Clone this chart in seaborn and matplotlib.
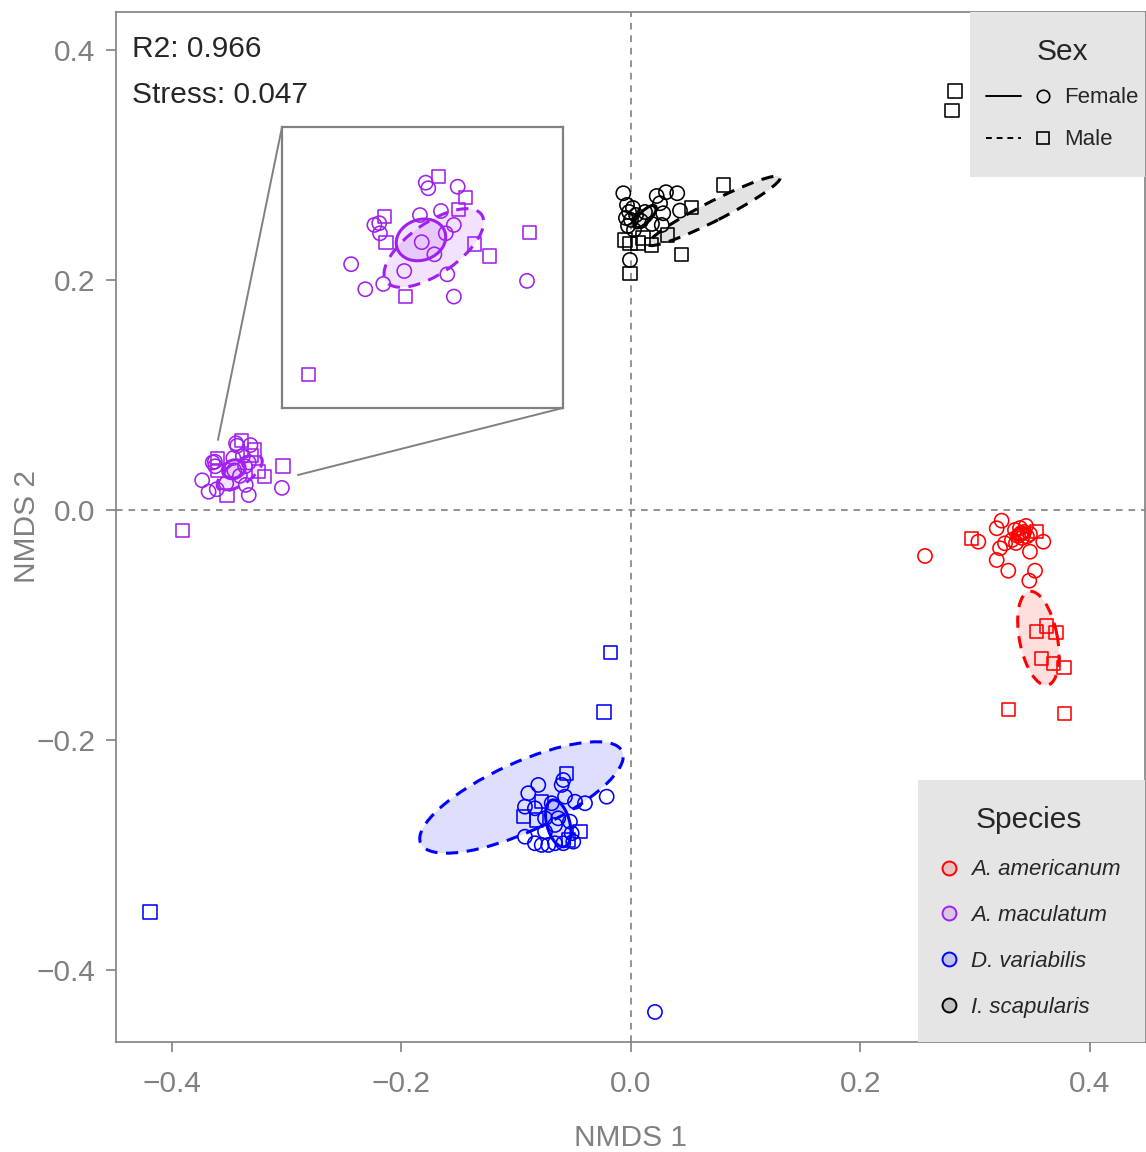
import numpy as np
import pandas as pd
import seaborn as sns
import matplotlib.pyplot as plt
from matplotlib.patches import Ellipse, Rectangle
from matplotlib.lines import Line2D
from matplotlib.colors import to_rgba
from matplotlib.legend_handler import HandlerTuple

# ---- data ----
species = ["A. americanum", "A. maculatum", "D. variabilis", "I. scapularis"]
colors = ["#FF0000", "#A020F0", "#0000FF", "#000000"]
fill_alpha = [0.13, 0.13, 0.13, 0.11]

am_f_x = [0.3230, 0.3187, 0.3027, 0.2562, 0.3259, 0.3216, 0.3187, 0.3288, 0.3477, 0.3593, 0.3521, 0.3471,
          0.3346, 0.3390, 0.3425, 0.3373, 0.3442, 0.3407, 0.3477, 0.3320, 0.3355, 0.3400, 0.3450]
am_f_y = [-0.0093, -0.0159, -0.0276, -0.0400, -0.0290, -0.0333, -0.0435, -0.0528, -0.0363, -0.0276, -0.0528, -0.0615,
          -0.0174, -0.0157, -0.0191, -0.0226, -0.0139, -0.0243, -0.0209, -0.0261, -0.0287, -0.0200, -0.0230]
am_m_x = [0.2969, 0.3536, 0.3536, 0.3623, 0.3704, 0.3579, 0.3680, 0.3773, 0.3288, 0.3776]
am_m_y = [-0.0246, -0.0189, -0.1058, -0.1009, -0.1067, -0.1290, -0.1333, -0.1368, -0.1733, -0.1768]

ma_f_x = [-0.3442, -0.3432, -0.3316, -0.3465, -0.3382, -0.3331, -0.3363, -0.3458, -0.3408, -0.3645, -0.3626,
          -0.3623, -0.3737, -0.3681, -0.3610, -0.3527, -0.3357, -0.3331, -0.3042]
ma_f_y = [0.0580, 0.0558, 0.0564, 0.0452, 0.0468, 0.0413, 0.0380, 0.0345, 0.0297, 0.0413, 0.0420,
          0.0380, 0.0258, 0.0159, 0.0180, 0.0231, 0.0218, 0.0130, 0.0192]
ma_m_x = [-0.3391, -0.3284, -0.3312, -0.3606, -0.3599, -0.3249, -0.3191, -0.3033, -0.3521, -0.3906]
ma_m_y = [0.0606, 0.0523, 0.0475, 0.0446, 0.0345, 0.0338, 0.0290, 0.0382, 0.0129, -0.0177]

dv_f_x = [-0.0808, -0.0604, -0.0895, -0.0575, -0.0488, -0.0401, -0.0924, -0.0837, -0.0691, -0.0749, -0.0662,
          -0.0532, -0.0517, -0.0924, -0.0837, -0.0778, -0.0721, -0.0662, -0.0590, -0.0503, -0.0749, -0.0634,
          -0.0212, 0.0209, -0.0590]
dv_f_y = [-0.2391, -0.2391, -0.2463, -0.2493, -0.2537, -0.2550, -0.2580, -0.2594, -0.2550, -0.2681, -0.2739,
          -0.2710, -0.2811, -0.2841, -0.2898, -0.2913, -0.2913, -0.2898, -0.2898, -0.2884, -0.2797, -0.2681,
          -0.2493, -0.4365, -0.2348]
dv_m_x = [-0.0177, -0.0235, -0.0560, -0.0939, -0.0444, -0.0546, -0.0778, -0.4192, -0.0822]
dv_m_y = [-0.1241, -0.1757, -0.2290, -0.2667, -0.2797, -0.2870, -0.2537, -0.3496, -0.2696]

is_f_x = [-0.0067, 0.0305, 0.0403, 0.0224, 0.0253, 0.0427, 0.0281, 0.0268, -0.0009, -0.0035, -0.0017,
          0.0017, -0.0044, 0.0000, 0.0044, -0.0026, 0.0026, 0.0087, 0.0122, 0.0183]
is_f_y = [0.2754, 0.2763, 0.2754, 0.2730, 0.2667, 0.2603, 0.2580, 0.2478, 0.2174, 0.2652, 0.2591,
          0.2626, 0.2539, 0.2522, 0.2565, 0.2470, 0.2435, 0.2513, 0.2591, 0.2487]
is_m_x = [0.0804, 0.0529, 0.0316, 0.0180, -0.0009, 0.0061, 0.0442, -0.0009, -0.0052, 0.0105, 0.2824, 0.2797]
is_m_y = [0.2826, 0.2629, 0.2391, 0.2304, 0.2319, 0.2322, 0.2223, 0.2058, 0.2348, 0.2365, 0.3643, 0.3470]

# ellipses: species, sex, centre x, centre y, width, height, angle
ell_species = ["A. americanum", "A. americanum", "A. maculatum", "A. maculatum",
               "D. variabilis", "D. variabilis", "I. scapularis", "I. scapularis"]
ell_sex = ["Male", "Female"] * 4
ell_cx = [0.3550, 0.3400, -0.3410, -0.3461, -0.0954, -0.0634, 0.0725, 0.0122]
ell_cy = [-0.1116, -0.0210, 0.0322, 0.0354, -0.2500, -0.2725, 0.2601, 0.2550]
ell_w = [0.083, 0.016, 0.046, 0.020, 0.193, 0.042, 0.129, 0.026]
ell_h = [0.033, 0.010, 0.020, 0.016, 0.060, 0.020, 0.017, 0.010]
ell_ang = [101, 15, 35, 20, 24.5, 105, 27, 45]

r2_text = "R2: 0.966"
stress_text = "Stress: 0.047"
ticks = [-0.4, -0.2, 0.0, 0.2, 0.4]

# zoom inset (data coords) and its connector lines
inset_bounds = [-0.3041, 0.0887, 0.2448, 0.2443]
inset_xlim = (-0.401, -0.290)
inset_ylim = (-0.031, 0.080)
connector_1 = ([-0.3041, -0.3599], [0.333, 0.0609])
connector_2 = ([-0.0593, -0.2902], [0.0887, 0.0304])

groups = [("A. americanum", "Female", am_f_x, am_f_y), ("A. americanum", "Male", am_m_x, am_m_y),
          ("A. maculatum", "Female", ma_f_x, ma_f_y), ("A. maculatum", "Male", ma_m_x, ma_m_y),
          ("D. variabilis", "Female", dv_f_x, dv_f_y), ("D. variabilis", "Male", dv_m_x, dv_m_y),
          ("I. scapularis", "Female", is_f_x, is_f_y), ("I. scapularis", "Male", is_m_x, is_m_y)]
df = pd.concat([pd.DataFrame({"NMDS1": xs, "NMDS2": ys, "Species": sp, "Sex": sx})
                for sp, sx, xs, ys in groups], ignore_index=True)
ell = pd.DataFrame({"Species": ell_species, "Sex": ell_sex, "cx": ell_cx, "cy": ell_cy,
                    "w": ell_w, "h": ell_h, "angle": ell_ang})

palette = dict(zip(species, colors))
alphas = dict(zip(species, fill_alpha))
markers = {"Female": "o", "Male": "s"}
sizes = {"Female": 105, "Male": 90}
dashes = {"Female": "-", "Male": (0, (4, 2.8))}

sns.set_style("ticks")
plt.rcParams["font.family"] = ["Liberation Sans", "DejaVu Sans"]
grey = "#808080"
legend_bg = "#E5E5E5"


def draw(axis, data, ells):
    for _, e in ells.iterrows():
        c = palette[e["Species"]]
        axis.add_patch(Ellipse((e["cx"], e["cy"]), e["w"], e["h"], angle=e["angle"],
                               facecolor=to_rgba(c, alphas[e["Species"]]), edgecolor=c,
                               lw=2.2, ls=dashes[e["Sex"]], zorder=2))
    for (sp, sx), g in data.groupby(["Species", "Sex"]):
        c = palette[sp]
        sns.scatterplot(data=g, x="NMDS1", y="NMDS2", ax=axis, marker=markers[sx], s=sizes[sx],
                        color=c, facecolor="none", edgecolor=c, linewidth=1.15, legend=False, zorder=3)


fig = plt.figure(figsize=(11.46, 11.52), dpi=100)
ax = fig.add_axes([0.1012, 0.0955, 0.8979, 0.8941])

ax.axhline(0, color=grey, lw=1.2, ls=(0, (4, 3.5)), zorder=1)
ax.axvline(0, color=grey, lw=1.2, ls=(0, (4, 3.5)), zorder=1)
draw(ax, df, ell)

ax.set_xlim(-0.4488, 0.4479)
ax.set_ylim(-0.4626, 0.4330)
ax.set_xticks(ticks)
ax.set_yticks(ticks)
ax.set_xticklabels([f"{t:.1f}".replace("-", "\u2212") for t in ticks])
ax.set_yticklabels([f"{t:.1f}".replace("-", "\u2212") for t in ticks])
ax.tick_params(colors=grey, labelcolor=grey, labelsize=21.5, length=7, width=1.2)
ax.tick_params(axis="x", pad=13)
ax.tick_params(axis="y", pad=8)
for s in ax.spines.values():
    s.set_color(grey)
    s.set_linewidth(1.2)
ax.set_xlabel("NMDS 1", fontsize=21.5, color=grey)
ax.set_ylabel("NMDS 2", fontsize=21.5, color=grey)
ax.xaxis.set_label_coords(0.5, -0.080)
ax.yaxis.set_label_coords(-0.073, 0.5)

ax.text(0.0155, 0.964, r2_text, transform=ax.transAxes, fontsize=21.5, va="center", ha="left")
ax.text(0.0155, 0.919, stress_text, transform=ax.transAxes, fontsize=21.5, va="center", ha="left")

# zoomed inset of the A. maculatum cluster
ins = ax.inset_axes(inset_bounds, transform=ax.transData, zorder=4)
draw(ins, df[df["Species"] == "A. maculatum"], ell[ell["Species"] == "A. maculatum"])
ins.set_xlim(*inset_xlim)
ins.set_ylim(*inset_ylim)
ins.set_xticks([])
ins.set_yticks([])
ins.set_xlabel("")
ins.set_ylabel("")
for s in ins.spines.values():
    s.set_color(grey)
    s.set_linewidth(1.6)
ax.plot(*connector_1, color=grey, lw=1.4, zorder=3)
ax.plot(*connector_2, color=grey, lw=1.4, zorder=3)

# legend panels (grey boxes flush with the axes corners)
ax.add_patch(Rectangle((0.830, 0.8398), 0.170, 0.1602, transform=ax.transAxes,
                       facecolor=legend_bg, edgecolor="none", zorder=5, clip_on=False))
ax.add_patch(Rectangle((0.7794, 0.0), 0.2206, 0.2544, transform=ax.transAxes,
                       facecolor=legend_bg, edgecolor="none", zorder=5, clip_on=False))

sex_handles = [(Line2D([], [], color="k", lw=1.4, ls="-"),
                Line2D([], [], marker="o", ls="none", mfc="none", mec="k", ms=9, mew=1.2)),
               (Line2D([], [], color="k", lw=1.4, ls=(0, (3, 2.5))),
                Line2D([], [], marker="s", ls="none", mfc="none", mec="k", ms=8.5, mew=1.2))]
leg1 = ax.legend(sex_handles, ["Female", "Male"], title="Sex", loc="center",
                 bbox_to_anchor=(0.9193, 0.9200),
                 handler_map={tuple: HandlerTuple(ndivide=2, pad=0.2)}, handlelength=3.35,
                 handletextpad=0.15, fontsize=16, title_fontsize=21.5, labelspacing=0.95,
                 borderpad=0, frameon=False)
leg1.set_zorder(6)
ax.add_artist(leg1)

sp_handles = [Line2D([], [], marker="o", ls="none", mec=c, mfc=to_rgba(c, 0.15), ms=10, mew=1.4)
              for c in colors]
leg2 = ax.legend(sp_handles, species, title="Species", loc="center", bbox_to_anchor=(0.8875, 0.126),
                 handlelength=1.0, handletextpad=0.5, prop={"size": 16, "style": "italic"},
                 title_fontsize=21.5, labelspacing=1.12, borderpad=0, frameon=False)
leg2.set_zorder(6)

fig.savefig("out.png", dpi=100)
